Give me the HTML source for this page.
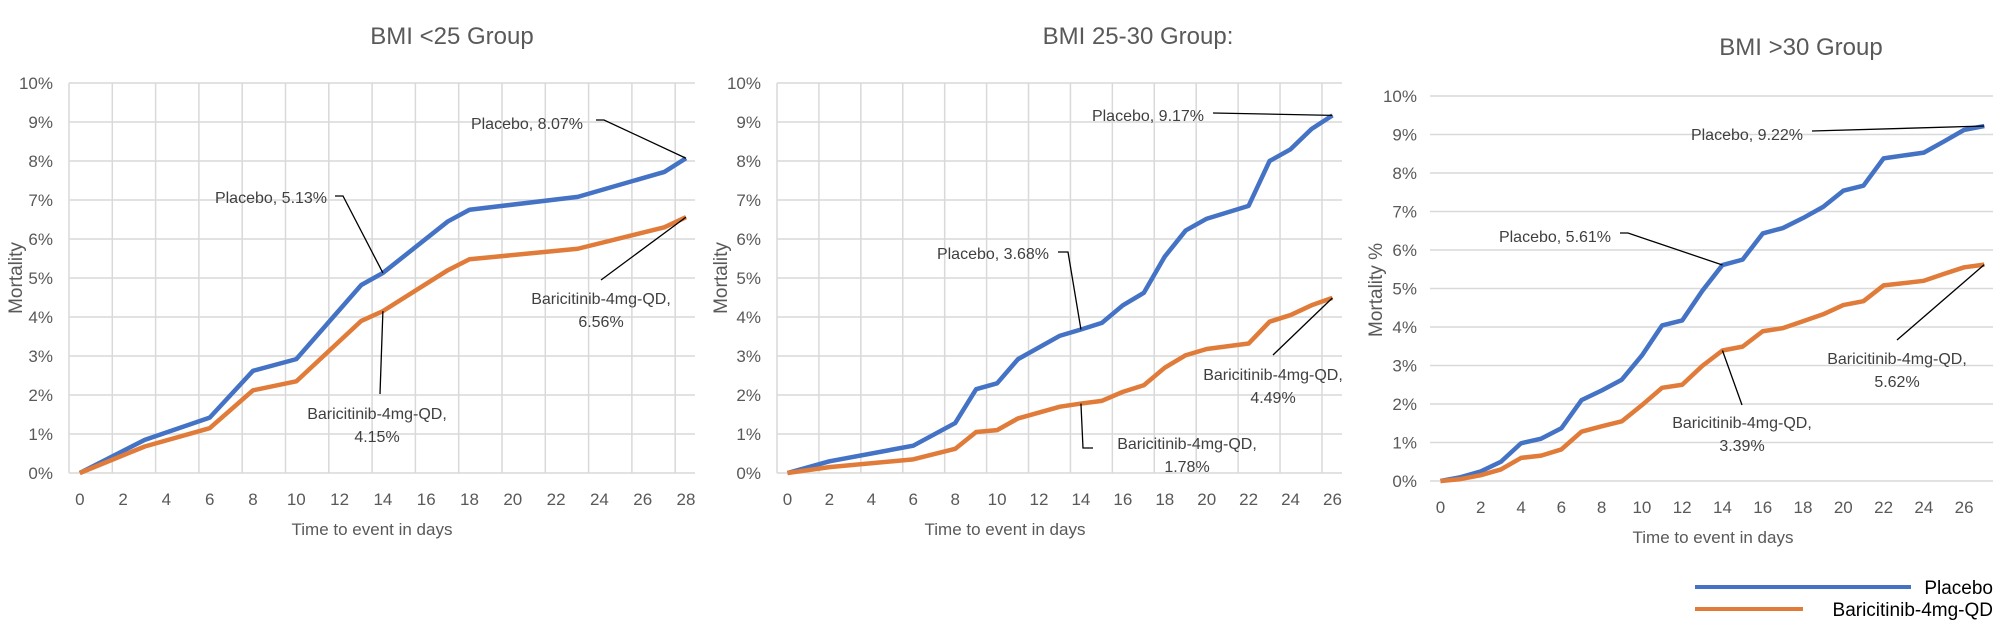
<!DOCTYPE html>
<html><head><meta charset="utf-8">
<style>
html,body{margin:0;padding:0;background:#fff;}
svg{display:block;font-family:"Liberation Sans",Arial,sans-serif;}
</style></head>
<body>
<svg id="root" width="2000" height="634" viewBox="0 0 2000 634" xmlns="http://www.w3.org/2000/svg">
  <g>
    <line x1="1695" y1="587" x2="1911" y2="587" stroke="#4472C4" stroke-width="4"/>
    <text x="1993" y="594" text-anchor="end" font-size="19" fill="#000">Placebo</text>
    <line x1="1695" y1="609" x2="1803" y2="609" stroke="#E07B39" stroke-width="4"/>
    <text x="1993" y="616" text-anchor="end" font-size="19" fill="#000">Baricitinib-4mg-QD</text>
  </g>
</svg>
<script>
// ---- Chart 1: BMI <25 ----
const c1Days = [0,3,6,8,10,13,14,17,18,23,27,28];
const c1Placebo = [0,0.85,1.42,2.62,2.92,4.82,5.13,6.45,6.75,7.08,7.72,8.07];
const c1Bari = [0,0.68,1.15,2.12,2.35,3.9,4.15,5.2,5.48,5.75,6.3,6.56];
const c1Ticks = [0,2,4,6,8,10,12,14,16,18,20,22,24,26,28];
// ---- Chart 2: BMI 25-30 ----
const c2Days = [0,2,6,8,9,10,11,13,14,15,16,17,18,19,20,22,23,24,25,26];
const c2Placebo = [0,0.3,0.7,1.28,2.15,2.3,2.92,3.52,3.68,3.85,4.3,4.62,5.55,6.22,6.52,6.85,8.0,8.3,8.82,9.17];
const c2Bari = [0,0.15,0.35,0.62,1.05,1.1,1.4,1.7,1.78,1.85,2.08,2.25,2.7,3.02,3.18,3.32,3.88,4.05,4.3,4.49];
const c2Ticks = [0,2,4,6,8,10,12,14,16,18,20,22,24,26];
// ---- Chart 3: BMI >30 ----
const c3Days = [0,1,2,3,4,5,6,7,8,9,10,11,12,13,14,15,16,17,18,19,20,21,22,24,25,26,27];
const c3Placebo = [0,0.1,0.25,0.5,0.98,1.1,1.37,2.1,2.35,2.63,3.26,4.04,4.17,4.94,5.61,5.75,6.43,6.57,6.83,7.12,7.54,7.67,8.38,8.53,8.82,9.12,9.22];
const c3Bari = [0,0.05,0.15,0.3,0.6,0.66,0.82,1.28,1.42,1.55,1.97,2.42,2.5,2.99,3.39,3.49,3.89,3.97,4.15,4.33,4.57,4.67,5.08,5.2,5.38,5.55,5.62];
const c3Ticks = [0,2,4,6,8,10,12,14,16,18,20,22,24,26];
const yTicks = [0,1,2,3,4,5,6,7,8,9,10];

const NS = "http://www.w3.org/2000/svg";
const root = document.getElementById('root');
function mk(tag, attrs, parent){
  const e = document.createElementNS(NS, tag);
  for (const k in attrs) e.setAttribute(k, attrs[k]);
  (parent||root).appendChild(e);
  return e;
}

function chart(cfg){
  const g = mk('g', {});
  
  
  const xs = d => cfg.x0 + d*cfg.dx;
  const ys = v => cfg.y0 - v*cfg.dy;
  // horizontal grid + y labels
  yTicks.forEach(t => {
    const l = mk('line', {x1:cfg.left, x2:cfg.right, y1:ys(t), y2:ys(t), stroke:'#d9d9d9', 'stroke-width':1.5}, g);
    
    
    const tx = mk('text', {x:cfg.yLabelX, y:ys(t)+6, 'text-anchor':'end', 'font-size':17, fill:'#595959'}, g);
    tx.textContent = t + '%';
    
    
  });
  // vertical grid
  if (cfg.vgrid){
    for (let k=0; cfg.left + k*2*cfg.dx <= cfg.right-5; k++){
      const x = cfg.left + k*2*cfg.dx;
      const l = mk('line', {x1:x, x2:x, y1:ys(10), y2:ys(0), stroke:'#d9d9d9', 'stroke-width':1.5}, g);
      
      
    }
  }
  // x ticks
  cfg.ticks.forEach(t => {
    const tx = mk('text', {x:xs(t), y:cfg.y0+32, 'text-anchor':'middle', 'font-size':17, fill:'#595959'}, g);
    tx.textContent = t;
    
    
  });
  // series
  const p1 = mk('polyline', {points: cfg.days.map((d,i)=>xs(d)+','+ys(cfg.placebo[i])).join(' '), fill:'none', stroke:'#4472C4', 'stroke-width':4.5, 'stroke-linejoin':'round'}, g);
  
  
  const p2 = mk('polyline', {points: cfg.days.map((d,i)=>xs(d)+','+ys(cfg.bari[i])).join(' '), fill:'none', stroke:'#E07B39', 'stroke-width':4.5, 'stroke-linejoin':'round'}, g);
  
  
  // title & axis titles
  const ti = mk('text', {x:cfg.titleX, y:cfg.titleY, 'text-anchor':'middle', 'font-size':24, fill:'#595959'}, g);
  ti.textContent = cfg.title;
  
  
  const xl = mk('text', {x:cfg.xTitleX, y:cfg.y0+62, 'text-anchor':'middle', 'font-size':17, fill:'#595959'}, g);
  xl.textContent = 'Time to event in days';
  
  
  const yl = mk('text', {x:0, y:0, 'text-anchor':'middle', 'font-size':19, fill:'#595959', transform:'translate('+cfg.yTitleX+','+cfg.yTitleY+') rotate(-90)'}, g);
  yl.textContent = cfg.yTitle;
  
  
  // annotations
  cfg.ann.forEach(a => {
    const ptIdx = cfg.days.indexOf(a.day);
    const vals = a.series === 'p' ? cfg.placebo : cfg.bari;
    const px = xs(a.day), py = ys(vals[ptIdx]);
    const pts = a.path.concat([[px,py]]).map(p=>p.join(',')).join(' ');
    const ld = mk('polyline', {points:pts, fill:'none', stroke:'#000', 'stroke-width':1.3}, g);
    
    
    a.lines.forEach((s,i) => {
      const t = mk('text', {x:a.x, y:a.y + i*23, 'text-anchor':a.anchor, 'font-size':16, fill:'#404040'}, g);
      t.textContent = s;
      
      
    });
  });
}

chart({name:'chart-bmi-under-25', title:'BMI <25 Group', titleX:452, titleY:44,
  left:69, right:695, x0:79.8, dx:21.65, y0:473, dy:39, yLabelX:53, vgrid:true,
  ticks:c1Ticks, days:c1Days, placebo:c1Placebo, bari:c1Bari,
  xTitleX:372, yTitleX:22, yTitleY:278, yTitle:'Mortality',
  ann:[
    {series:'p', day:28, x:527, y:129, anchor:'middle', lines:['Placebo, 8.07%'], path:[[596,120],[604,120]]},
    {series:'p', day:14, x:271, y:203, anchor:'middle', lines:['Placebo, 5.13%'], path:[[335,196],[343,196]]},
    {series:'b', day:28, x:601, y:304, anchor:'middle', lines:['Baricitinib-4mg-QD,','6.56%'], path:[[601,280]]},
    {series:'b', day:14, x:377, y:419, anchor:'middle', lines:['Baricitinib-4mg-QD,','4.15%'], path:[[380,394]]}
  ]});

chart({name:'chart-bmi-25-30', title:'BMI 25-30 Group:', titleX:1138, titleY:44,
  left:777, right:1342, x0:787.5, dx:20.96, y0:473, dy:39, yLabelX:761, vgrid:true,
  ticks:c2Ticks, days:c2Days, placebo:c2Placebo, bari:c2Bari,
  xTitleX:1005, yTitleX:727, yTitleY:278, yTitle:'Mortality',
  ann:[
    {series:'p', day:26, x:1148, y:121, anchor:'middle', lines:['Placebo, 9.17%'], path:[[1213,113]]},
    {series:'p', day:14, x:993, y:259, anchor:'middle', lines:['Placebo, 3.68%'], path:[[1058,252],[1068,252]]},
    {series:'b', day:26, x:1273, y:380, anchor:'middle', lines:['Baricitinib-4mg-QD,','4.49%'], path:[[1273,355]]},
    {series:'b', day:14, x:1187, y:449, anchor:'middle', lines:['Baricitinib-4mg-QD,','1.78%'], path:[[1093,448],[1083,448]]}
  ]});

chart({name:'chart-bmi-over-30', title:'BMI >30 Group', titleX:1801, titleY:55,
  left:1430, right:1993, x0:1440.5, dx:20.14, y0:481, dy:38.5, yLabelX:1417, vgrid:false,
  ticks:c3Ticks, days:c3Days, placebo:c3Placebo, bari:c3Bari,
  xTitleX:1713, yTitleX:1382, yTitleY:290, yTitle:'Mortality %',
  ann:[
    {series:'p', day:27, x:1747, y:140, anchor:'middle', lines:['Placebo, 9.22%'], path:[[1812,131]]},
    {series:'p', day:14, x:1555, y:242, anchor:'middle', lines:['Placebo, 5.61%'], path:[[1620,233],[1628,233]]},
    {series:'b', day:27, x:1897, y:364, anchor:'middle', lines:['Baricitinib-4mg-QD,','5.62%'], path:[[1897,340]]},
    {series:'b', day:14, x:1742, y:428, anchor:'middle', lines:['Baricitinib-4mg-QD,','3.39%'], path:[[1742,405]]}
  ]});
</script>
</body></html>
